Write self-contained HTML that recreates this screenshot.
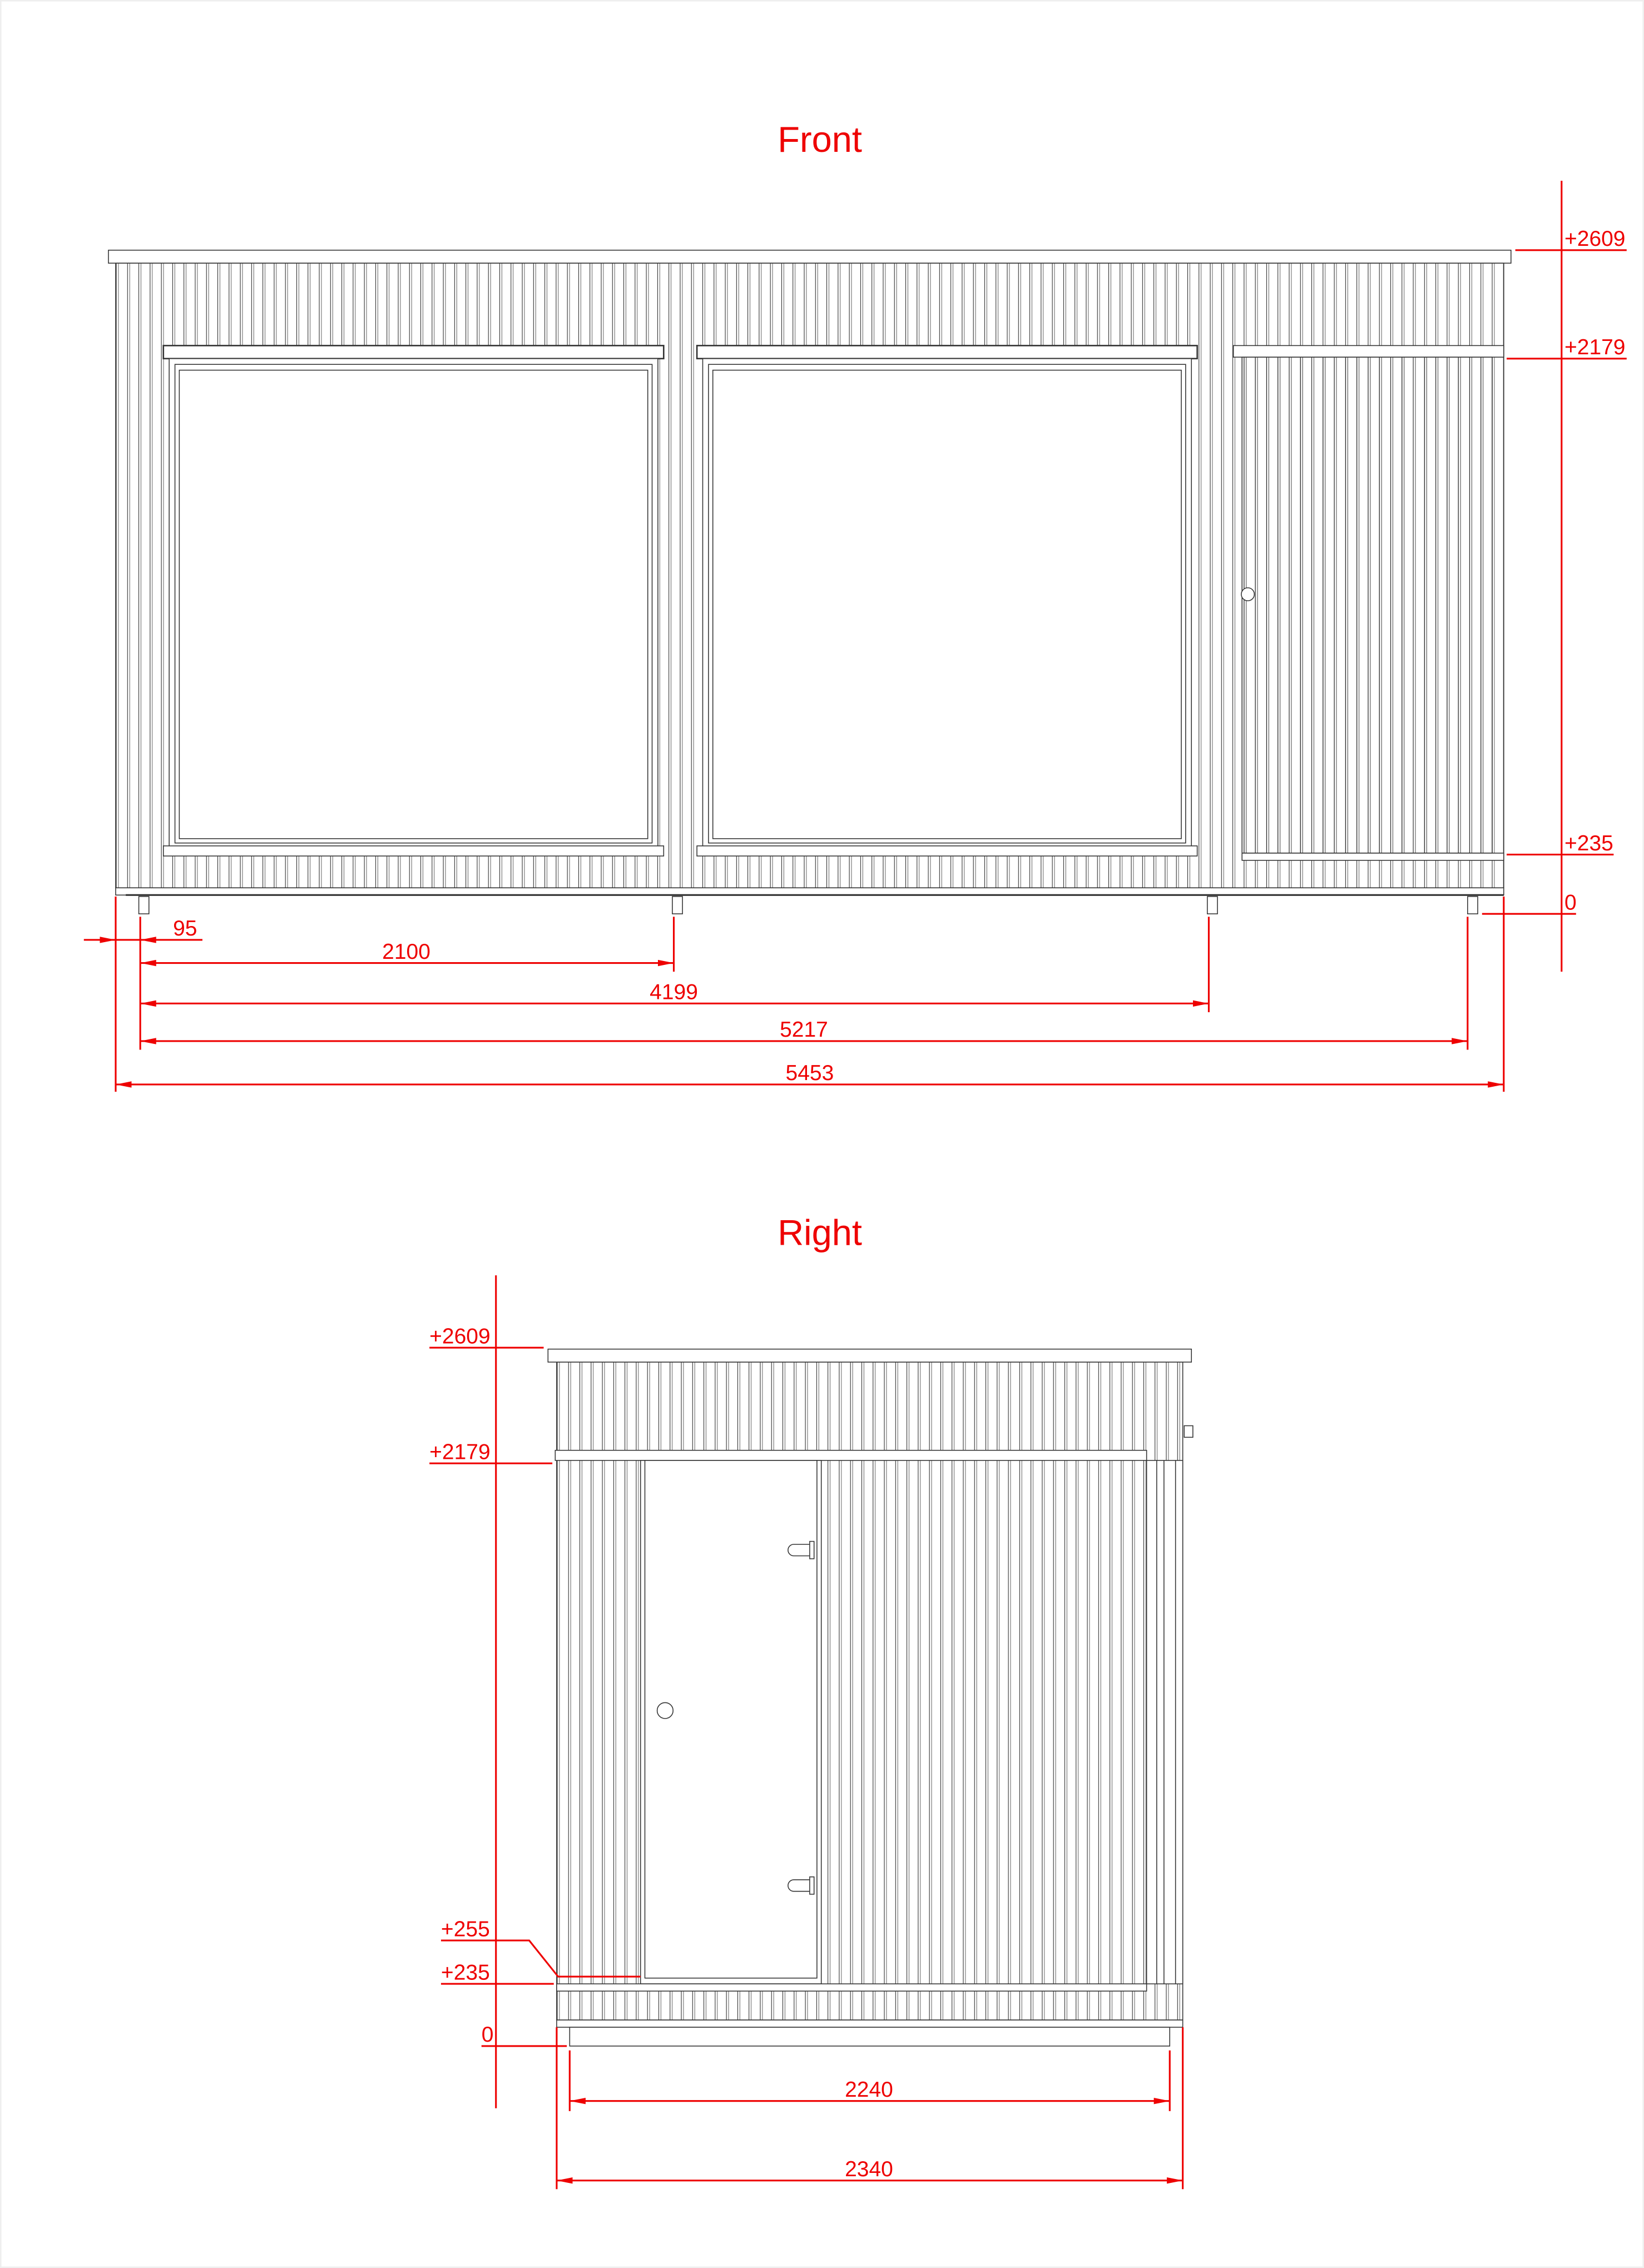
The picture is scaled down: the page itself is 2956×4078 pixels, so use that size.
<!DOCTYPE html>
<html><head><meta charset="utf-8"><style>
html,body{margin:0;padding:0;background:#fff;}
svg{display:block;width:2956px;height:4078px;}
</style></head><body>
<svg viewBox="0 0 1137 1568.5" preserveAspectRatio="none" xmlns="http://www.w3.org/2000/svg">
<defs>
<pattern id="sl" x="80" y="0" width="7.8" height="10" patternUnits="userSpaceOnUse">
<line x1="0.4" y1="0" x2="0.4" y2="10" stroke="#222" stroke-width="0.4"/>
<line x1="1.9" y1="0" x2="1.9" y2="10" stroke="#777" stroke-width="0.45"/>
</pattern>
<pattern id="sl2" x="385" y="0" width="7.8" height="10" patternUnits="userSpaceOnUse">
<line x1="0.4" y1="0" x2="0.4" y2="10" stroke="#222" stroke-width="0.4"/>
<line x1="1.9" y1="0" x2="1.9" y2="10" stroke="#777" stroke-width="0.45"/>
</pattern>
<marker id="ae" markerWidth="11" markerHeight="4.4" refX="11" refY="2.2" orient="auto" markerUnits="userSpaceOnUse"><path d="M0,0 L11,2.2 L0,4.4z" fill="#e00"/></marker>
<marker id="as" markerWidth="11" markerHeight="4.4" refX="0" refY="2.2" orient="auto" markerUnits="userSpaceOnUse"><path d="M11,0 L0,2.2 L11,4.4z" fill="#e00"/></marker>
</defs>
<rect x="0.5" y="0.5" width="1136" height="1567.5" fill="#fff" stroke="#eee" stroke-width="1"/>
<g font-family="Liberation Sans, Arial, sans-serif" fill="#e00">
<text x="567" y="105" font-size="25" text-anchor="middle">Front</text>
<text x="567" y="861" font-size="25" text-anchor="middle">Right</text>
</g>

<!-- FRONT -->
<g stroke="#333" stroke-width="0.6" fill="#fff">
<rect x="75" y="173" width="970" height="9"/>
<rect x="80" y="182" width="960" height="432" fill="url(#sl)"/>
<rect x="80" y="614" width="960" height="5"/>
<line x1="87" y1="619" x2="1040" y2="619" stroke-width="1.2"/>
<rect x="96" y="620" width="7" height="12"/>
<rect x="465" y="620" width="7" height="12"/>
<rect x="835" y="620" width="7" height="12"/>
<rect x="1015" y="620" width="7" height="12"/>
<rect x="113" y="239" width="346" height="9" stroke-width="1"/>
<rect x="117" y="248" width="338" height="342"/>
<rect x="121" y="252" width="330" height="331"/>
<rect x="124" y="256" width="324" height="324"/>
<rect x="113" y="585" width="346" height="7"/>
<rect x="482" y="239" width="346" height="9" stroke-width="1"/>
<rect x="486" y="248" width="338" height="342"/>
<rect x="490" y="252" width="330" height="331"/>
<rect x="493" y="256" width="324" height="324"/>
<rect x="482" y="585" width="346" height="7"/>
<rect x="853" y="239" width="187" height="8"/>
<rect x="859" y="247" width="173" height="343" fill="url(#sl)"/>
<rect x="859" y="590" width="181" height="5"/>
<circle cx="863" cy="411" r="4.5"/>
</g>
<g stroke="#e00" stroke-width="1.2" fill="none">
<line x1="1080" y1="125" x2="1080" y2="672"/>
<line x1="1048" y1="173" x2="1125" y2="173"/>
<line x1="1042" y1="248" x2="1125" y2="248"/>
<line x1="1042" y1="591" x2="1116" y2="591"/>
<line x1="1025" y1="632" x2="1090" y2="632"/>
<line x1="80" y1="620" x2="80" y2="755"/>
<line x1="97" y1="634" x2="97" y2="726"/>
<line x1="466" y1="634" x2="466" y2="672"/>
<line x1="836" y1="634" x2="836" y2="700"/>
<line x1="1015" y1="634" x2="1015" y2="726"/>
<line x1="1040" y1="620" x2="1040" y2="755"/>
<line x1="58" y1="650" x2="80" y2="650" marker-end="url(#ae)"/>
<line x1="80" y1="650" x2="97" y2="650"/>
<line x1="97" y1="650" x2="140" y2="650" marker-start="url(#as)"/>
<line x1="97" y1="666" x2="466" y2="666" marker-start="url(#as)" marker-end="url(#ae)"/>
<line x1="97" y1="694" x2="836" y2="694" marker-start="url(#as)" marker-end="url(#ae)"/>
<line x1="97" y1="720" x2="1015" y2="720" marker-start="url(#as)" marker-end="url(#ae)"/>
<line x1="80" y1="750" x2="1040" y2="750" marker-start="url(#as)" marker-end="url(#ae)"/>
</g>
<g font-family="Liberation Sans, Arial, sans-serif" fill="#e00" font-size="15">
<text x="1082" y="170">+2609</text>
<text x="1082" y="245">+2179</text>
<text x="1082" y="588">+235</text>
<text x="1082" y="629">0</text>
<text x="128" y="647" text-anchor="middle">95</text>
<text x="281" y="663" text-anchor="middle">2100</text>
<text x="466" y="691" text-anchor="middle">4199</text>
<text x="556" y="717" text-anchor="middle">5217</text>
<text x="560" y="747" text-anchor="middle">5453</text>
</g>

<!-- RIGHT -->
<g stroke="#333" stroke-width="0.6" fill="#fff">
<rect x="385" y="942" width="433" height="455" fill="url(#sl2)"/>
<rect x="379" y="933" width="445" height="9"/>
<rect x="793" y="1010" width="25" height="362"/>
<line x1="800" y1="1010" x2="800" y2="1372"/>
<line x1="805" y1="1010" x2="805" y2="1372"/>
<line x1="813" y1="1010" x2="813" y2="1372"/>
<rect x="384" y="1003" width="409" height="7"/>
<rect x="443" y="1010" width="125" height="362"/>
<rect x="446" y="1010" width="119" height="358"/>
<circle cx="460" cy="1183" r="5.5"/>
<path d="M561,1068 h-12 a4,4 0 0 0 0,8 h12z"/>
<rect x="560" y="1066" width="3" height="12"/>
<path d="M561,1300 h-12 a4,4 0 0 0 0,8 h12z"/>
<rect x="560" y="1298" width="3" height="12"/>
<rect x="819" y="986" width="6" height="8"/>
<rect x="385" y="1372" width="408" height="5"/>
<rect x="385" y="1397" width="433" height="5"/>
<rect x="394" y="1402" width="415" height="13"/>
</g>
<g stroke="#e00" stroke-width="1.2" fill="none">
<line x1="343" y1="882" x2="343" y2="1458"/>
<line x1="297" y1="932" x2="376" y2="932"/>
<line x1="297" y1="1012" x2="382" y2="1012"/>
<polyline points="305,1342 366,1342 386,1367 443,1367"/>
<line x1="305" y1="1372" x2="383" y2="1372"/>
<line x1="333" y1="1415" x2="392" y2="1415"/>
<line x1="385" y1="1402" x2="385" y2="1514"/>
<line x1="394" y1="1418" x2="394" y2="1460"/>
<line x1="809" y1="1418" x2="809" y2="1460"/>
<line x1="818" y1="1402" x2="818" y2="1514"/>
<line x1="394" y1="1453" x2="809" y2="1453" marker-start="url(#as)" marker-end="url(#ae)"/>
<line x1="385" y1="1508" x2="818" y2="1508" marker-start="url(#as)" marker-end="url(#ae)"/>
</g>
<g font-family="Liberation Sans, Arial, sans-serif" fill="#e00" font-size="15">
<text x="297" y="929">+2609</text>
<text x="297" y="1009">+2179</text>
<text x="305" y="1339">+255</text>
<text x="305" y="1369">+235</text>
<text x="333" y="1412">0</text>
<text x="601" y="1450" text-anchor="middle">2240</text>
<text x="601" y="1505" text-anchor="middle">2340</text>
</g>
</svg>
</body></html>
